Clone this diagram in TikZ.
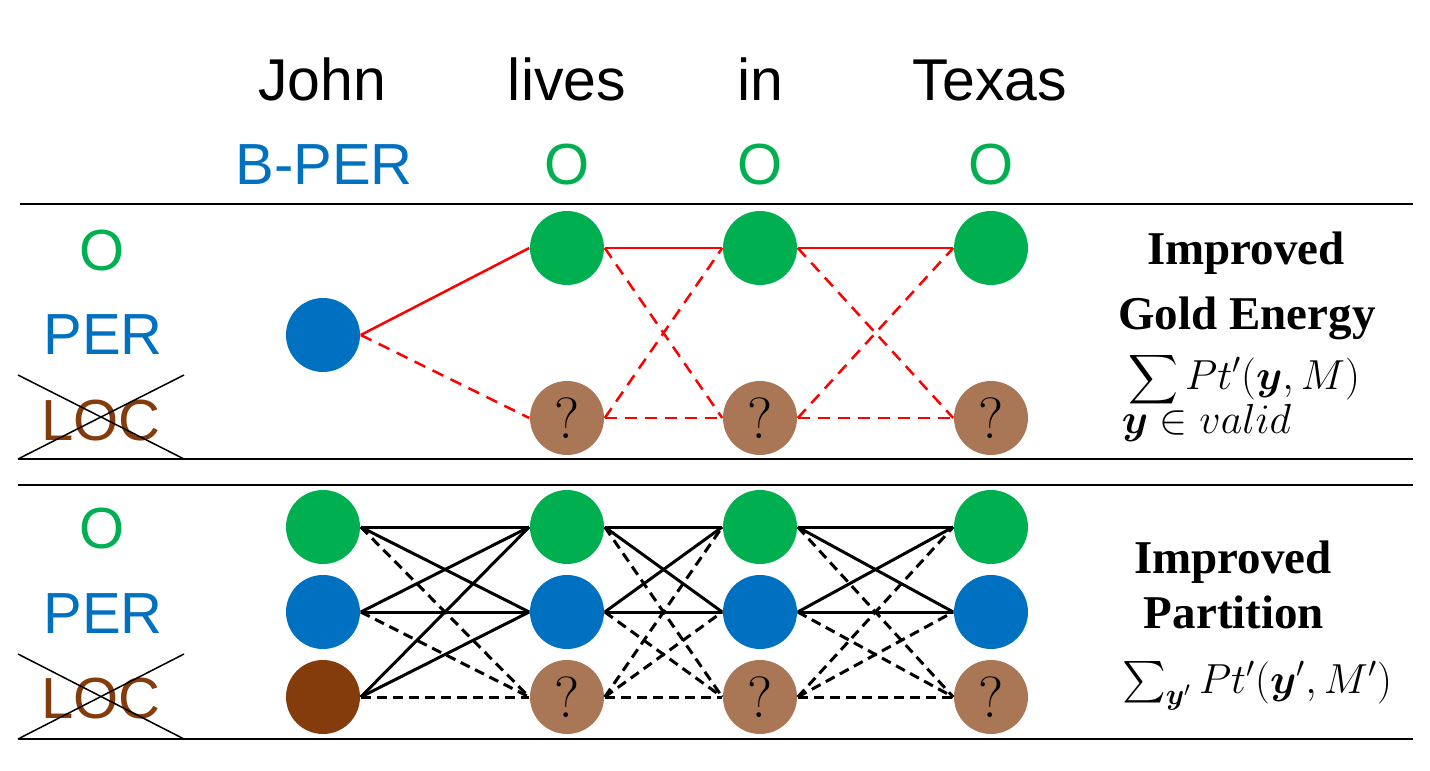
\RequirePackage{fix-cm}
\documentclass[tikz,border=0pt]{standalone}
\usepackage{amsmath}
\usepackage{mathtools}
\usepackage{fontspec}
\newfontfamily\arialfont{Liberation Sans}
\newfontfamily\timesfont{Liberation Serif}
\usepackage{tikz}
\definecolor{taggreen}{RGB}{0, 176, 80}
\definecolor{tagblue}{RGB}{0, 112, 192}
\definecolor{tagbrown}{RGB}{132, 60, 12}
\definecolor{tagtan}{RGB}{169, 118, 86}
\tikzset{every picture/.style={line width=0.75pt}}
\tikzset{
  tagdot/.style={circle,inner sep=0pt,minimum size=37pt},
  wordtext/.style={anchor=base,inner sep=0.75pt,font=\arialfont\fontsize{29.5}{34}\selectfont},
  tagtext/.style={anchor=base,inner sep=0.75pt,font=\arialfont\fontsize{29}{34}\selectfont},
  qmark/.style={font=\fontsize{29}{30}\selectfont},
  headtext/.style={anchor=base,inner sep=0.5pt,font=\timesfont\bfseries\fontsize{23.5}{28}\selectfont},
  mathtext/.style={anchor=base,inner sep=0.5pt,font=\fontsize{21}{25}\selectfont},
  blackline/.style={line width=1.5pt},
  blackdash/.style={line width=1.5pt,dash pattern=on 5pt off 3pt},
  redline/.style={color=red,line width=1.25pt},
  reddash/.style={color=red,line width=1.25pt,dash pattern=on 6pt off 4pt},
  rule/.style={line width=1.1pt},
}

\begin{document}
\begin{tikzpicture}[x=0.50pt,y=0.50pt,yscale=-1]
\useasboundingbox (0,0) rectangle (1430,771);

% Words and gold tags
\draw (322,100) node [wordtext] (john) {John};
\draw (567,100) node [wordtext] (lives) {lives};
\draw (760,100) node [wordtext] (in) {in};
\draw (990,100) node [wordtext] (texas) {Texas};
\draw (324,184) node [tagtext,color=tagblue] (goldA) {B-PER};
\draw (567,184) node [tagtext,color=taggreen] (goldB) {O};
\draw (760,184) node [tagtext,color=taggreen] (goldC) {O};
\draw (991,184) node [tagtext,color=taggreen] (goldD) {O};

% Rules
\draw [rule] (20,204) -- (1413,204) ;
\draw [rule] (18,459) -- (1413,459) ;
\draw [rule] (18,485) -- (1413,485) ;
\draw [rule] (18,739) -- (1413,739) ;

% Upper panel: row labels
\draw (102,270) node [tagtext,color=taggreen] (uO) {O};
\draw (103,354) node [tagtext,color=tagblue] (uPER) {PER};
\draw (101,440) node [tagtext,color=tagbrown] (uLOC) {LOC};
\draw (18,375) -- (184,459) ;
\draw (184,375) -- (18,459) ;

% Upper panel: tag nodes
\draw (323,335) node [tagdot,fill=tagblue] (uB1) {};
\draw (567,248) node [tagdot,fill=taggreen] (uG2) {};
\draw (760,248) node [tagdot,fill=taggreen] (uG3) {};
\draw (991,248) node [tagdot,fill=taggreen] (uG4) {};
\draw (567,418) node [tagdot,fill=tagtan,qmark] (uQ2) {?};
\draw (760,418) node [tagdot,fill=tagtan,qmark] (uQ3) {?};
\draw (991,418) node [tagdot,fill=tagtan,qmark] (uQ4) {?};

% Upper panel: red transitions
\draw [redline] (uB1.east) -- (uG2.west) ;
\draw [reddash] (uB1.east) -- (uQ2.west) ;
\draw [redline] (uG2.east) -- (uG3.west) ;
\draw [reddash] (uG2.east) -- (uQ3.west) ;
\draw [reddash] (uQ2.east) -- (uG3.west) ;
\draw [reddash] (uQ2.east) -- (uQ3.west) ;
\draw [redline] (uG3.east) -- (uG4.west) ;
\draw [reddash] (uG3.east) -- (uQ4.west) ;
\draw [reddash] (uQ3.east) -- (uG4.west) ;
\draw [reddash] (uQ3.east) -- (uQ4.west) ;

% Upper panel: score
\draw (1246,264) node [headtext] (gainA) {Improved};
\draw (1247,329) node [headtext] (gainB) {Gold Energy};
\draw (1244,389) node [mathtext] (goldsum) {{\fontsize{18}{20}\selectfont$\displaystyle\sum$}\,$Pt'(\boldsymbol{y},M)$};
\draw (1120,433) node [mathtext,anchor=base west] (goldset) {$\boldsymbol{y}\in valid$};

% Lower panel: row labels
\draw (102,548) node [tagtext,color=taggreen] (lO) {O};
\draw (103,633) node [tagtext,color=tagblue] (lPER) {PER};
\draw (101,718) node [tagtext,color=tagbrown] (lLOC) {LOC};
\draw (18,654) -- (184,739) ;
\draw (184,654) -- (18,739) ;

% Lower panel: tag nodes
\draw (323,527) node [tagdot,fill=taggreen] (lG1) {};
\draw (567,527) node [tagdot,fill=taggreen] (lG2) {};
\draw (760,527) node [tagdot,fill=taggreen] (lG3) {};
\draw (991,527) node [tagdot,fill=taggreen] (lG4) {};
\draw (323,612) node [tagdot,fill=tagblue] (lB1) {};
\draw (567,612) node [tagdot,fill=tagblue] (lB2) {};
\draw (760,612) node [tagdot,fill=tagblue] (lB3) {};
\draw (991,612) node [tagdot,fill=tagblue] (lB4) {};
\draw (323,697) node [tagdot,fill=tagbrown] (lL1) {};
\draw (567,697) node [tagdot,fill=tagtan,qmark] (lQ2) {?};
\draw (760,697) node [tagdot,fill=tagtan,qmark] (lQ3) {?};
\draw (991,697) node [tagdot,fill=tagtan,qmark] (lQ4) {?};

% Lower panel: John -> lives
\draw [blackline] (lG1.east) -- (lG2.west) ;
\draw [blackline] (lG1.east) -- (lB2.west) ;
\draw [blackdash] (lG1.east) -- (lQ2.west) ;
\draw [blackline] (lB1.east) -- (lG2.west) ;
\draw [blackline] (lB1.east) -- (lB2.west) ;
\draw [blackdash] (lB1.east) -- (lQ2.west) ;
\draw [blackline] (lL1.east) -- (lG2.west) ;
\draw [blackline] (lL1.east) -- (lB2.west) ;
\draw [blackdash] (lL1.east) -- (lQ2.west) ;
% Lower panel: lives -> in
\draw [blackline] (lG2.east) -- (lG3.west) ;
\draw [blackline] (lG2.east) -- (lB3.west) ;
\draw [blackdash] (lG2.east) -- (lQ3.west) ;
\draw [blackline] (lB2.east) -- (lG3.west) ;
\draw [blackline] (lB2.east) -- (lB3.west) ;
\draw [blackdash] (lB2.east) -- (lQ3.west) ;
\draw [blackdash] (lQ2.east) -- (lG3.west) ;
\draw [blackdash] (lQ2.east) -- (lB3.west) ;
\draw [blackdash] (lQ2.east) -- (lQ3.west) ;
% Lower panel: in -> Texas
\draw [blackline] (lG3.east) -- (lG4.west) ;
\draw [blackline] (lG3.east) -- (lB4.west) ;
\draw [blackdash] (lG3.east) -- (lQ4.west) ;
\draw [blackline] (lB3.east) -- (lG4.west) ;
\draw [blackline] (lB3.east) -- (lB4.west) ;
\draw [blackdash] (lB3.east) -- (lQ4.west) ;
\draw [blackdash] (lQ3.east) -- (lG4.west) ;
\draw [blackdash] (lQ3.east) -- (lB4.west) ;
\draw [blackdash] (lQ3.east) -- (lQ4.west) ;

% Lower panel: score
\draw (1233,573) node [headtext] (partA) {Improved};
\draw (1234,628) node [headtext] (partB) {Partition};
\draw (1257,693) node [mathtext] (partsum) {$\sum_{\boldsymbol{y}'} Pt'(\boldsymbol{y}',M')$};

\end{tikzpicture}
\end{document}
